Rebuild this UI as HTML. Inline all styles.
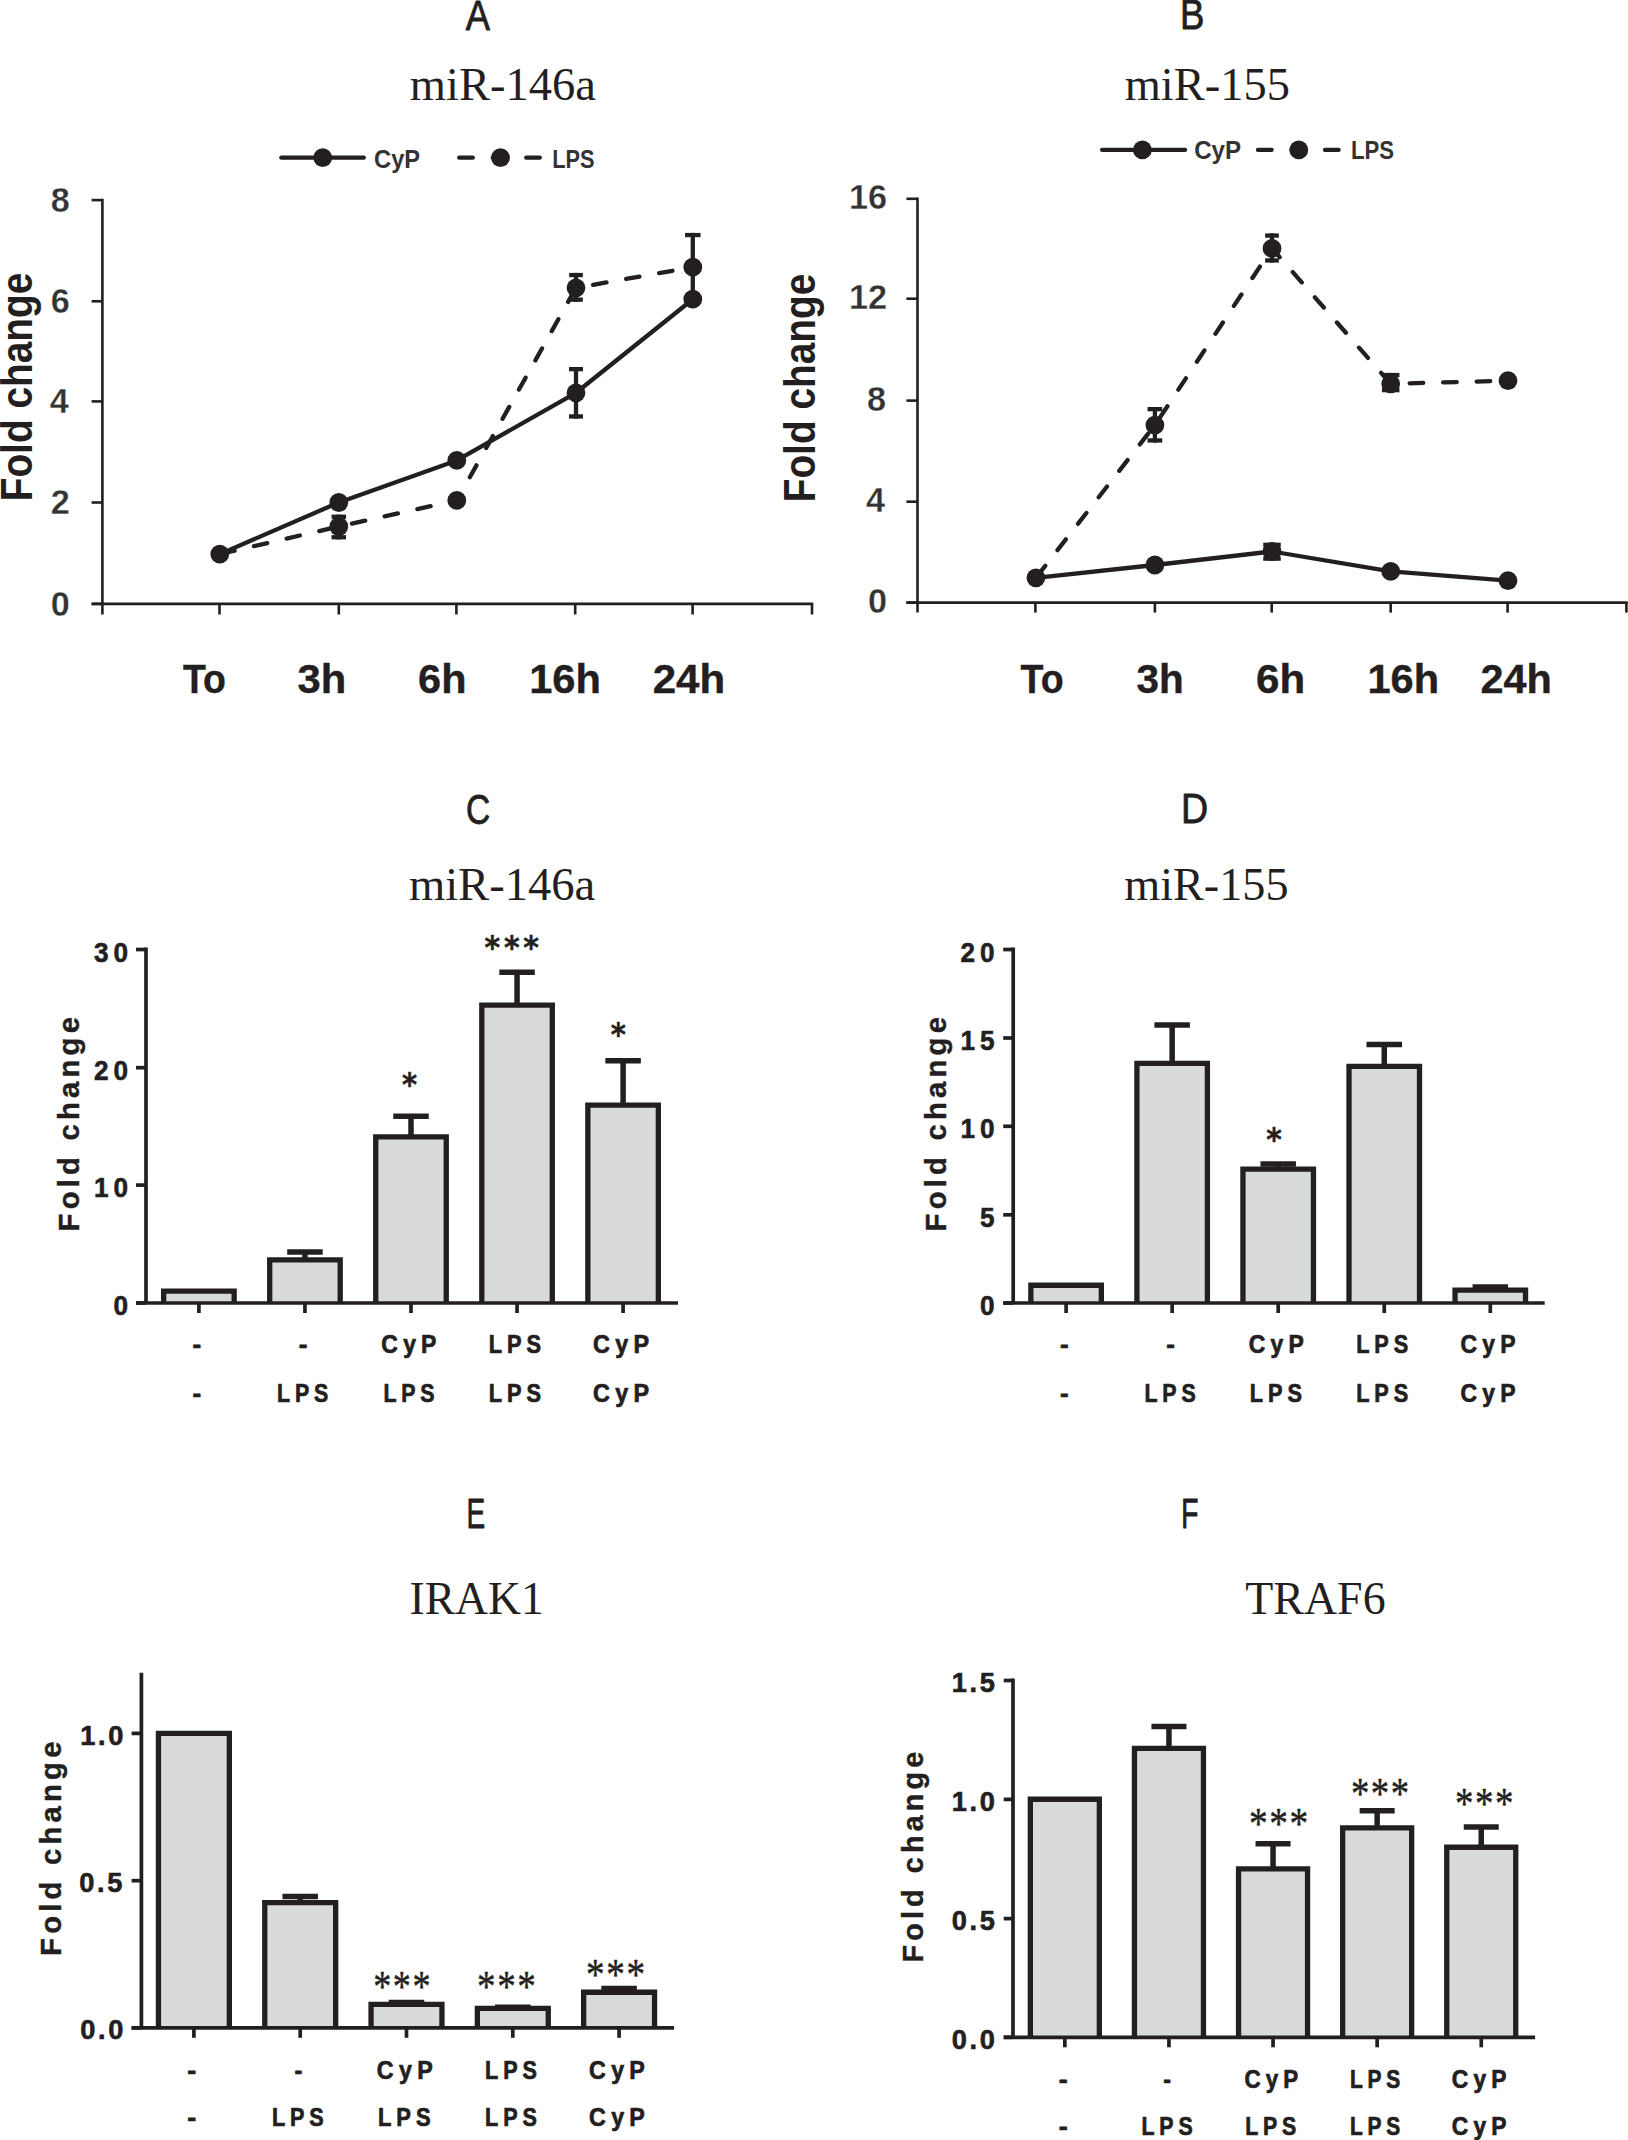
<!DOCTYPE html>
<html lang="en"><head><meta charset="utf-8"><title>Figure: miR-146a / miR-155 fold change</title>
<style>html,body{margin:0;padding:0;background:#fff}svg{display:block}text{white-space:pre}</style></head>
<body><svg width="1628" height="2140" viewBox="0 0 1628 2140">
<rect width="1628" height="2140" fill="#ffffff"/>
<g stroke="#231f20" fill="none" stroke-linecap="butt">
<line x1="102.40" y1="198.80" x2="102.40" y2="614.50" stroke-width="2.60"/>
<line x1="91.60" y1="200.10" x2="102.40" y2="200.10" stroke-width="2.60"/>
<line x1="91.60" y1="301.30" x2="102.40" y2="301.30" stroke-width="2.60"/>
<line x1="91.60" y1="401.40" x2="102.40" y2="401.40" stroke-width="2.60"/>
<line x1="91.60" y1="502.50" x2="102.40" y2="502.50" stroke-width="2.60"/>
<line x1="91.60" y1="603.90" x2="102.40" y2="603.90" stroke-width="2.60"/>
<line x1="91.60" y1="603.90" x2="813.30" y2="603.90" stroke-width="2.60"/>
<line x1="219.50" y1="603.90" x2="219.50" y2="614.50" stroke-width="2.60"/>
<line x1="338.80" y1="603.90" x2="338.80" y2="614.50" stroke-width="2.60"/>
<line x1="456.40" y1="603.90" x2="456.40" y2="614.50" stroke-width="2.60"/>
<line x1="575.20" y1="603.90" x2="575.20" y2="614.50" stroke-width="2.60"/>
<line x1="692.60" y1="603.90" x2="692.60" y2="614.50" stroke-width="2.60"/>
<line x1="812.00" y1="603.90" x2="812.00" y2="614.50" stroke-width="2.60"/>
<line x1="917.50" y1="197.50" x2="917.50" y2="612.60" stroke-width="2.60"/>
<line x1="906.40" y1="198.80" x2="917.50" y2="198.80" stroke-width="2.60"/>
<line x1="906.40" y1="298.70" x2="917.50" y2="298.70" stroke-width="2.60"/>
<line x1="906.40" y1="400.60" x2="917.50" y2="400.60" stroke-width="2.60"/>
<line x1="906.40" y1="501.70" x2="917.50" y2="501.70" stroke-width="2.60"/>
<line x1="906.40" y1="602.60" x2="917.50" y2="602.60" stroke-width="2.60"/>
<line x1="906.40" y1="602.60" x2="1627.70" y2="602.60" stroke-width="2.60"/>
<line x1="1035.40" y1="602.60" x2="1035.40" y2="612.60" stroke-width="2.60"/>
<line x1="1154.90" y1="602.60" x2="1154.90" y2="612.60" stroke-width="2.60"/>
<line x1="1271.70" y1="602.60" x2="1271.70" y2="612.60" stroke-width="2.60"/>
<line x1="1390.70" y1="602.60" x2="1390.70" y2="612.60" stroke-width="2.60"/>
<line x1="1507.60" y1="602.60" x2="1507.60" y2="612.60" stroke-width="2.60"/>
<line x1="1626.40" y1="602.60" x2="1626.40" y2="612.60" stroke-width="2.60"/>
</g>
<g stroke="#231f20" fill="none">
<line x1="338.80" y1="514.60" x2="338.80" y2="539.40" stroke-width="4.30"/>
<line x1="331.55" y1="516.75" x2="346.05" y2="516.75" stroke-width="4.30"/>
<line x1="331.55" y1="537.25" x2="346.05" y2="537.25" stroke-width="4.30"/>
<line x1="576.00" y1="272.90" x2="576.00" y2="301.80" stroke-width="4.30"/>
<line x1="569.15" y1="275.05" x2="582.85" y2="275.05" stroke-width="4.30"/>
<line x1="569.15" y1="299.65" x2="582.85" y2="299.65" stroke-width="4.30"/>
<line x1="576.00" y1="367.00" x2="576.00" y2="418.60" stroke-width="4.30"/>
<line x1="569.00" y1="369.15" x2="583.00" y2="369.15" stroke-width="4.30"/>
<line x1="569.00" y1="416.45" x2="583.00" y2="416.45" stroke-width="4.30"/>
<line x1="692.80" y1="232.90" x2="692.80" y2="300.00" stroke-width="4.30"/>
<line x1="685.05" y1="235.05" x2="700.55" y2="235.05" stroke-width="4.30"/>
<line x1="685.05" y1="297.85" x2="700.55" y2="297.85" stroke-width="4.30"/>
<line x1="1154.90" y1="407.00" x2="1154.90" y2="442.60" stroke-width="4.30"/>
<line x1="1147.55" y1="409.15" x2="1162.25" y2="409.15" stroke-width="4.30"/>
<line x1="1147.55" y1="440.45" x2="1162.25" y2="440.45" stroke-width="4.30"/>
<line x1="1272.00" y1="233.40" x2="1272.00" y2="262.60" stroke-width="4.30"/>
<line x1="1265.15" y1="235.55" x2="1278.85" y2="235.55" stroke-width="4.30"/>
<line x1="1265.15" y1="260.45" x2="1278.85" y2="260.45" stroke-width="4.30"/>
<line x1="1390.70" y1="372.90" x2="1390.70" y2="392.30" stroke-width="4.30"/>
<line x1="1381.95" y1="375.05" x2="1399.45" y2="375.05" stroke-width="4.30"/>
<line x1="1381.95" y1="390.15" x2="1399.45" y2="390.15" stroke-width="4.30"/>
<line x1="1272.00" y1="542.60" x2="1272.00" y2="560.80" stroke-width="4.30"/>
<line x1="1263.25" y1="544.75" x2="1280.75" y2="544.75" stroke-width="4.30"/>
<line x1="1263.25" y1="558.65" x2="1280.75" y2="558.65" stroke-width="4.30"/>
<polyline points="219.8,554.1 338.8,502.5 456.8,460.4 576.0,392.8 692.8,299.2" stroke-width="4.3" stroke-linejoin="round" stroke-linecap="round"/>
<polyline points="1035.9,577.8 1154.9,565.0 1272.0,551.5 1390.7,571.4 1508.0,580.7" stroke-width="4.3" stroke-linejoin="round" stroke-linecap="round"/>
<polyline points="219.8,554.1 338.8,526.5 456.8,500.4 576.0,287.8 692.8,267.2" stroke-width="4.3" stroke-dasharray="13.6 19.9" stroke-dashoffset="-1.6" stroke-linejoin="round" stroke-linecap="round"/>
<polyline points="1035.9,577.8 1154.9,425.1 1272.0,248.4 1390.7,383.8 1508.0,380.7" stroke-width="4.3" stroke-dasharray="13.6 19.9" stroke-dashoffset="-1.6" stroke-linejoin="round" stroke-linecap="round"/>
<line x1="281.30" y1="157.70" x2="363.80" y2="157.70" stroke-width="4.30" stroke-linecap="round"/>
<line x1="459.20" y1="157.70" x2="542.00" y2="157.70" stroke-width="4.30" stroke-linecap="round" stroke-dasharray="13.6 19.9"/>
<line x1="1102.10" y1="149.90" x2="1185.10" y2="149.90" stroke-width="4.30" stroke-linecap="round"/>
<line x1="1258.00" y1="149.90" x2="1341.00" y2="149.90" stroke-width="4.30" stroke-linecap="round" stroke-dasharray="13.6 19.9"/>
</g>
<g fill="#231f20">
<circle cx="219.8" cy="554.1" r="9.4"/>
<circle cx="338.8" cy="502.5" r="9.4"/>
<circle cx="456.8" cy="460.4" r="9.4"/>
<circle cx="576.0" cy="392.8" r="9.4"/>
<circle cx="692.8" cy="299.2" r="9.4"/>
<circle cx="338.8" cy="526.5" r="9.4"/>
<circle cx="456.8" cy="500.4" r="9.4"/>
<circle cx="576.0" cy="287.8" r="9.4"/>
<circle cx="692.8" cy="267.2" r="9.4"/>
<circle cx="1035.9" cy="577.8" r="9.4"/>
<circle cx="1154.9" cy="565.0" r="9.4"/>
<circle cx="1272.0" cy="551.5" r="9.4"/>
<circle cx="1390.7" cy="571.4" r="9.4"/>
<circle cx="1508.0" cy="580.7" r="9.4"/>
<circle cx="1154.9" cy="425.1" r="9.4"/>
<circle cx="1272.0" cy="248.4" r="9.4"/>
<circle cx="1390.7" cy="383.8" r="9.4"/>
<circle cx="1508.0" cy="380.7" r="9.4"/>
<circle cx="322.7" cy="157.7" r="9.4"/>
<circle cx="500.5" cy="157.7" r="9.4"/>
<circle cx="1142.4" cy="149.9" r="9.4"/>
<circle cx="1298.8" cy="149.9" r="9.4"/>
</g>
<g stroke="#231f20" fill="none">
<path d="M163.65 1303.00V1291.15H234.15V1303.00" fill="#d9dadc" stroke-width="5.3" stroke-linejoin="miter"/>
<path d="M269.70 1303.00V1259.95H340.20V1303.00" fill="#d9dadc" stroke-width="5.3" stroke-linejoin="miter"/>
<path d="M375.75 1303.00V1136.95H446.25V1303.00" fill="#d9dadc" stroke-width="5.3" stroke-linejoin="miter"/>
<path d="M481.80 1303.00V1005.05H552.30V1303.00" fill="#d9dadc" stroke-width="5.3" stroke-linejoin="miter"/>
<path d="M587.85 1303.00V1105.15H658.35V1303.00" fill="#d9dadc" stroke-width="5.3" stroke-linejoin="miter"/>
<line x1="304.95" y1="1252.00" x2="304.95" y2="1259.95" stroke-width="5.50"/>
<line x1="287.20" y1="1252.00" x2="322.70" y2="1252.00" stroke-width="5.50"/>
<line x1="411.00" y1="1116.20" x2="411.00" y2="1136.95" stroke-width="5.50"/>
<line x1="393.25" y1="1116.20" x2="428.75" y2="1116.20" stroke-width="5.50"/>
<line x1="517.05" y1="972.20" x2="517.05" y2="1005.05" stroke-width="5.50"/>
<line x1="499.30" y1="972.20" x2="534.80" y2="972.20" stroke-width="5.50"/>
<line x1="623.10" y1="1060.70" x2="623.10" y2="1105.15" stroke-width="5.50"/>
<line x1="605.35" y1="1060.70" x2="640.85" y2="1060.70" stroke-width="5.50"/>
<line x1="146.00" y1="947.60" x2="146.00" y2="1303.00" stroke-width="3.70"/>
<line x1="136.00" y1="949.50" x2="146.00" y2="949.50" stroke-width="3.70"/>
<line x1="136.00" y1="1067.70" x2="146.00" y2="1067.70" stroke-width="3.70"/>
<line x1="136.00" y1="1185.10" x2="146.00" y2="1185.10" stroke-width="3.70"/>
<line x1="136.00" y1="1303.00" x2="146.00" y2="1303.00" stroke-width="3.70"/>
<line x1="136.00" y1="1303.00" x2="678.00" y2="1303.00" stroke-width="3.70"/>
<line x1="198.90" y1="1303.00" x2="198.90" y2="1313.00" stroke-width="3.70"/>
<line x1="304.95" y1="1303.00" x2="304.95" y2="1313.00" stroke-width="3.70"/>
<line x1="411.00" y1="1303.00" x2="411.00" y2="1313.00" stroke-width="3.70"/>
<line x1="517.05" y1="1303.00" x2="517.05" y2="1313.00" stroke-width="3.70"/>
<line x1="623.10" y1="1303.00" x2="623.10" y2="1313.00" stroke-width="3.70"/>
</g>
<g stroke="#231f20" fill="none">
<path d="M1030.85 1303.00V1285.25H1101.35V1303.00" fill="#d9dadc" stroke-width="5.3" stroke-linejoin="miter"/>
<path d="M1136.90 1303.00V1063.35H1207.40V1303.00" fill="#d9dadc" stroke-width="5.3" stroke-linejoin="miter"/>
<path d="M1242.95 1303.00V1169.15H1313.45V1303.00" fill="#d9dadc" stroke-width="5.3" stroke-linejoin="miter"/>
<path d="M1349.00 1303.00V1066.45H1419.50V1303.00" fill="#d9dadc" stroke-width="5.3" stroke-linejoin="miter"/>
<path d="M1455.05 1303.00V1290.15H1525.55V1303.00" fill="#d9dadc" stroke-width="5.3" stroke-linejoin="miter"/>
<line x1="1172.15" y1="1025.10" x2="1172.15" y2="1063.35" stroke-width="5.50"/>
<line x1="1154.40" y1="1025.10" x2="1189.90" y2="1025.10" stroke-width="5.50"/>
<line x1="1278.20" y1="1164.00" x2="1278.20" y2="1169.15" stroke-width="5.50"/>
<line x1="1260.45" y1="1164.00" x2="1295.95" y2="1164.00" stroke-width="5.50"/>
<line x1="1384.25" y1="1044.50" x2="1384.25" y2="1066.45" stroke-width="5.50"/>
<line x1="1366.50" y1="1044.50" x2="1402.00" y2="1044.50" stroke-width="5.50"/>
<line x1="1490.30" y1="1287.10" x2="1490.30" y2="1290.15" stroke-width="5.50"/>
<line x1="1472.55" y1="1287.10" x2="1508.05" y2="1287.10" stroke-width="5.50"/>
<line x1="1013.20" y1="947.60" x2="1013.20" y2="1303.00" stroke-width="3.70"/>
<line x1="1003.20" y1="949.50" x2="1013.20" y2="949.50" stroke-width="3.70"/>
<line x1="1003.20" y1="1038.00" x2="1013.20" y2="1038.00" stroke-width="3.70"/>
<line x1="1003.20" y1="1126.30" x2="1013.20" y2="1126.30" stroke-width="3.70"/>
<line x1="1003.20" y1="1214.80" x2="1013.20" y2="1214.80" stroke-width="3.70"/>
<line x1="1003.20" y1="1303.00" x2="1013.20" y2="1303.00" stroke-width="3.70"/>
<line x1="1003.20" y1="1303.00" x2="1544.70" y2="1303.00" stroke-width="3.70"/>
<line x1="1066.10" y1="1303.00" x2="1066.10" y2="1313.00" stroke-width="3.70"/>
<line x1="1172.15" y1="1303.00" x2="1172.15" y2="1313.00" stroke-width="3.70"/>
<line x1="1278.20" y1="1303.00" x2="1278.20" y2="1313.00" stroke-width="3.70"/>
<line x1="1384.25" y1="1303.00" x2="1384.25" y2="1313.00" stroke-width="3.70"/>
<line x1="1490.30" y1="1303.00" x2="1490.30" y2="1313.00" stroke-width="3.70"/>
</g>
<g stroke="#231f20" fill="none">
<path d="M158.45 2027.80V1733.45H229.35V2027.80" fill="#d9dadc" stroke-width="5.3" stroke-linejoin="miter"/>
<path d="M264.75 2027.80V1902.65H335.65V2027.80" fill="#d9dadc" stroke-width="5.3" stroke-linejoin="miter"/>
<path d="M371.05 2027.80V2004.35H441.95V2027.80" fill="#d9dadc" stroke-width="5.3" stroke-linejoin="miter"/>
<path d="M477.35 2027.80V2008.45H548.25V2027.80" fill="#d9dadc" stroke-width="5.3" stroke-linejoin="miter"/>
<path d="M583.65 2027.80V1992.25H654.55V2027.80" fill="#d9dadc" stroke-width="5.3" stroke-linejoin="miter"/>
<line x1="300.20" y1="1896.40" x2="300.20" y2="1902.65" stroke-width="5.50"/>
<line x1="282.45" y1="1896.40" x2="317.95" y2="1896.40" stroke-width="5.50"/>
<line x1="406.50" y1="2002.60" x2="406.50" y2="2004.35" stroke-width="5.50"/>
<line x1="388.75" y1="2002.60" x2="424.25" y2="2002.60" stroke-width="5.50"/>
<line x1="512.80" y1="2007.20" x2="512.80" y2="2008.45" stroke-width="5.50"/>
<line x1="495.05" y1="2007.20" x2="530.55" y2="2007.20" stroke-width="5.50"/>
<line x1="619.10" y1="1988.40" x2="619.10" y2="1992.25" stroke-width="5.50"/>
<line x1="601.35" y1="1988.40" x2="636.85" y2="1988.40" stroke-width="5.50"/>
<line x1="141.40" y1="1672.80" x2="141.40" y2="2027.80" stroke-width="3.70"/>
<line x1="131.60" y1="1733.40" x2="141.40" y2="1733.40" stroke-width="3.70"/>
<line x1="131.60" y1="1880.70" x2="141.40" y2="1880.70" stroke-width="3.70"/>
<line x1="131.60" y1="2027.80" x2="141.40" y2="2027.80" stroke-width="3.70"/>
<line x1="131.60" y1="2027.80" x2="674.10" y2="2027.80" stroke-width="3.70"/>
<line x1="193.90" y1="2027.80" x2="193.90" y2="2037.80" stroke-width="3.70"/>
<line x1="300.20" y1="2027.80" x2="300.20" y2="2037.80" stroke-width="3.70"/>
<line x1="406.50" y1="2027.80" x2="406.50" y2="2037.80" stroke-width="3.70"/>
<line x1="512.80" y1="2027.80" x2="512.80" y2="2037.80" stroke-width="3.70"/>
<line x1="619.10" y1="2027.80" x2="619.10" y2="2037.80" stroke-width="3.70"/>
</g>
<g stroke="#231f20" fill="none">
<path d="M1030.35 2037.30V1799.25H1099.35V2037.30" fill="#d9dadc" stroke-width="5.3" stroke-linejoin="miter"/>
<path d="M1134.45 2037.30V1748.45H1203.45V2037.30" fill="#d9dadc" stroke-width="5.3" stroke-linejoin="miter"/>
<path d="M1238.55 2037.30V1868.95H1307.55V2037.30" fill="#d9dadc" stroke-width="5.3" stroke-linejoin="miter"/>
<path d="M1342.65 2037.30V1827.85H1411.65V2037.30" fill="#d9dadc" stroke-width="5.3" stroke-linejoin="miter"/>
<path d="M1446.75 2037.30V1847.25H1515.75V2037.30" fill="#d9dadc" stroke-width="5.3" stroke-linejoin="miter"/>
<line x1="1168.95" y1="1726.40" x2="1168.95" y2="1748.45" stroke-width="5.50"/>
<line x1="1151.45" y1="1726.40" x2="1186.45" y2="1726.40" stroke-width="5.50"/>
<line x1="1273.05" y1="1843.80" x2="1273.05" y2="1868.95" stroke-width="5.50"/>
<line x1="1255.55" y1="1843.80" x2="1290.55" y2="1843.80" stroke-width="5.50"/>
<line x1="1377.15" y1="1810.80" x2="1377.15" y2="1827.85" stroke-width="5.50"/>
<line x1="1359.65" y1="1810.80" x2="1394.65" y2="1810.80" stroke-width="5.50"/>
<line x1="1481.25" y1="1827.00" x2="1481.25" y2="1847.25" stroke-width="5.50"/>
<line x1="1463.75" y1="1827.00" x2="1498.75" y2="1827.00" stroke-width="5.50"/>
<line x1="1013.00" y1="1678.60" x2="1013.00" y2="2037.30" stroke-width="3.70"/>
<line x1="1003.70" y1="1680.50" x2="1013.00" y2="1680.50" stroke-width="3.70"/>
<line x1="1003.70" y1="1799.40" x2="1013.00" y2="1799.40" stroke-width="3.70"/>
<line x1="1003.70" y1="1918.60" x2="1013.00" y2="1918.60" stroke-width="3.70"/>
<line x1="1003.70" y1="2037.30" x2="1013.00" y2="2037.30" stroke-width="3.70"/>
<line x1="1003.70" y1="2037.30" x2="1535.10" y2="2037.30" stroke-width="3.70"/>
<line x1="1064.85" y1="2037.30" x2="1064.85" y2="2047.30" stroke-width="3.70"/>
<line x1="1168.95" y1="2037.30" x2="1168.95" y2="2047.30" stroke-width="3.70"/>
<line x1="1273.05" y1="2037.30" x2="1273.05" y2="2047.30" stroke-width="3.70"/>
<line x1="1377.15" y1="2037.30" x2="1377.15" y2="2047.30" stroke-width="3.70"/>
<line x1="1481.25" y1="2037.30" x2="1481.25" y2="2047.30" stroke-width="3.70"/>
</g>
<g>
<text id="LA" transform="translate(465.70 29.90) scale(0.8562 1)" font-family="'Liberation Sans', Arial, sans-serif" font-weight="400" font-size="42.50" fill="#231f20" text-anchor="start" stroke="#231f20" stroke-width="0.8" stroke-linejoin="round">A</text>
<text id="LB" transform="translate(1179.90 29.40) scale(0.8618 1)" font-family="'Liberation Sans', Arial, sans-serif" font-weight="400" font-size="42.50" fill="#231f20" text-anchor="start" stroke="#231f20" stroke-width="0.8" stroke-linejoin="round">B</text>
<text id="LC" transform="translate(466.10 823.60) scale(0.7873 1)" font-family="'Liberation Sans', Arial, sans-serif" font-weight="400" font-size="42.50" fill="#231f20" text-anchor="start" stroke="#231f20" stroke-width="0.8" stroke-linejoin="round">C</text>
<text id="LD" transform="translate(1180.90 823.30) scale(0.8858 1)" font-family="'Liberation Sans', Arial, sans-serif" font-weight="400" font-size="42.50" fill="#231f20" text-anchor="start" stroke="#231f20" stroke-width="0.8" stroke-linejoin="round">D</text>
<text id="LE" transform="translate(466.40 1528.40) scale(0.6602 1)" font-family="'Liberation Sans', Arial, sans-serif" font-weight="400" font-size="42.50" fill="#231f20" text-anchor="start" stroke="#231f20" stroke-width="0.8" stroke-linejoin="round">E</text>
<text id="LF" transform="translate(1180.90 1528.40) scale(0.6744 1)" font-family="'Liberation Sans', Arial, sans-serif" font-weight="400" font-size="42.50" fill="#231f20" text-anchor="start" stroke="#231f20" stroke-width="0.8" stroke-linejoin="round">F</text>
<text id="TA" transform="translate(409.80 100.10) scale(1.0110 1)" font-family="'Liberation Serif', 'Times New Roman', serif" font-weight="400" font-size="46.00" fill="#231f20" text-anchor="start">miR-146a</text>
<text id="TB" transform="translate(1124.70 100.10) scale(1.0100 1)" font-family="'Liberation Serif', 'Times New Roman', serif" font-weight="400" font-size="46.00" fill="#231f20" text-anchor="start">miR-155</text>
<text id="TC" transform="translate(408.90 899.80) scale(1.0133 1)" font-family="'Liberation Serif', 'Times New Roman', serif" font-weight="400" font-size="46.00" fill="#231f20" text-anchor="start">miR-146a</text>
<text id="TD" transform="translate(1124.20 899.80) scale(1.0050 1)" font-family="'Liberation Serif', 'Times New Roman', serif" font-weight="400" font-size="46.00" fill="#231f20" text-anchor="start">miR-155</text>
<text id="TE" transform="translate(409.50 1613.70) scale(0.9909 1)" font-family="'Liberation Serif', 'Times New Roman', serif" font-weight="400" font-size="46.00" fill="#231f20" text-anchor="start">IRAK1</text>
<text id="TF" transform="translate(1245.20 1613.70) scale(0.9987 1)" font-family="'Liberation Serif', 'Times New Roman', serif" font-weight="400" font-size="46.00" fill="#231f20" text-anchor="start">TRAF6</text>
<text id="GA1" transform="translate(374.10 167.70) scale(0.9462 1)" font-family="'Liberation Sans', Arial, sans-serif" font-weight="700" font-size="25.00" fill="#333333" text-anchor="start">CyP</text>
<text id="GA2" transform="translate(552.20 167.70) scale(0.8700 1)" font-family="'Liberation Sans', Arial, sans-serif" font-weight="700" font-size="25.00" fill="#333333" text-anchor="start">LPS</text>
<text id="GB1" transform="translate(1194.20 158.70) scale(0.9655 1)" font-family="'Liberation Sans', Arial, sans-serif" font-weight="700" font-size="25.00" fill="#333333" text-anchor="start">CyP</text>
<text id="GB2" transform="translate(1350.90 158.70) scale(0.8872 1)" font-family="'Liberation Sans', Arial, sans-serif" font-weight="700" font-size="25.00" fill="#333333" text-anchor="start">LPS</text>
<text id="YA0" transform="translate(69.90 211.70) scale(0.9787 1)" font-family="'Liberation Sans', Arial, sans-serif" font-weight="700" font-size="35.00" fill="#333333" text-anchor="end" stroke="#ffffff" stroke-width="0.3">8</text>
<text id="YA1" transform="translate(69.90 312.90) scale(0.9787 1)" font-family="'Liberation Sans', Arial, sans-serif" font-weight="700" font-size="35.00" fill="#333333" text-anchor="end" stroke="#ffffff" stroke-width="0.3">6</text>
<text id="YA2" transform="translate(68.90 413.00) scale(0.9787 1)" font-family="'Liberation Sans', Arial, sans-serif" font-weight="700" font-size="35.00" fill="#333333" text-anchor="end" stroke="#ffffff" stroke-width="0.3">4</text>
<text id="YA3" transform="translate(69.90 514.10) scale(0.9787 1)" font-family="'Liberation Sans', Arial, sans-serif" font-weight="700" font-size="35.00" fill="#333333" text-anchor="end" stroke="#ffffff" stroke-width="0.3">2</text>
<text id="YA4" transform="translate(69.90 615.50) scale(0.9787 1)" font-family="'Liberation Sans', Arial, sans-serif" font-weight="700" font-size="35.00" fill="#333333" text-anchor="end" stroke="#ffffff" stroke-width="0.3">0</text>
<text id="YB0" transform="translate(887.00 209.00) scale(0.9787 1)" font-family="'Liberation Sans', Arial, sans-serif" font-weight="700" font-size="35.00" fill="#333333" text-anchor="end" stroke="#ffffff" stroke-width="0.3">16</text>
<text id="YB1" transform="translate(887.00 308.90) scale(0.9787 1)" font-family="'Liberation Sans', Arial, sans-serif" font-weight="700" font-size="35.00" fill="#333333" text-anchor="end" stroke="#ffffff" stroke-width="0.3">12</text>
<text id="YB2" transform="translate(886.00 410.80) scale(0.9787 1)" font-family="'Liberation Sans', Arial, sans-serif" font-weight="700" font-size="35.00" fill="#333333" text-anchor="end" stroke="#ffffff" stroke-width="0.3">8</text>
<text id="YB3" transform="translate(885.00 511.90) scale(0.9787 1)" font-family="'Liberation Sans', Arial, sans-serif" font-weight="700" font-size="35.00" fill="#333333" text-anchor="end" stroke="#ffffff" stroke-width="0.3">4</text>
<text id="YB4" transform="translate(887.00 612.80) scale(0.9787 1)" font-family="'Liberation Sans', Arial, sans-serif" font-weight="700" font-size="35.00" fill="#333333" text-anchor="end" stroke="#ffffff" stroke-width="0.3">0</text>
<text id="FA" transform="translate(32.20 501.30) rotate(-90) scale(0.8923 1)" font-family="'Liberation Sans', Arial, sans-serif" font-weight="700" font-size="43.50" fill="#231f20" text-anchor="start">Fold change</text>
<text id="FB" transform="translate(814.80 502.30) rotate(-90) scale(0.8926 1)" font-family="'Liberation Sans', Arial, sans-serif" font-weight="700" font-size="43.50" fill="#231f20" text-anchor="start">Fold change</text>
<text id="XA0" transform="translate(182.90 693.40) scale(0.9094 1)" font-family="'Liberation Sans', Arial, sans-serif" font-weight="700" font-size="41.20" fill="#231f20" text-anchor="start" stroke="#231f20" stroke-width="0.4">To</text>
<text id="XA1" transform="translate(297.60 693.40) scale(1.0136 1)" font-family="'Liberation Sans', Arial, sans-serif" font-weight="700" font-size="41.20" fill="#231f20" text-anchor="start" stroke="#231f20" stroke-width="0.4">3h</text>
<text id="XA2" transform="translate(418.10 693.40) scale(1.0051 1)" font-family="'Liberation Sans', Arial, sans-serif" font-weight="700" font-size="41.20" fill="#231f20" text-anchor="start" stroke="#231f20" stroke-width="0.4">6h</text>
<text id="XA3" transform="translate(529.20 693.40) scale(1.0092 1)" font-family="'Liberation Sans', Arial, sans-serif" font-weight="700" font-size="41.20" fill="#231f20" text-anchor="start" stroke="#231f20" stroke-width="0.4">16h</text>
<text id="XA4" transform="translate(652.70 693.40) scale(1.0210 1)" font-family="'Liberation Sans', Arial, sans-serif" font-weight="700" font-size="41.20" fill="#231f20" text-anchor="start" stroke="#231f20" stroke-width="0.4">24h</text>
<text id="XB0" transform="translate(1020.50 693.40) scale(0.9116 1)" font-family="'Liberation Sans', Arial, sans-serif" font-weight="700" font-size="41.20" fill="#231f20" text-anchor="start" stroke="#231f20" stroke-width="0.4">To</text>
<text id="XB1" transform="translate(1136.60 693.40) scale(0.9828 1)" font-family="'Liberation Sans', Arial, sans-serif" font-weight="700" font-size="41.20" fill="#231f20" text-anchor="start" stroke="#231f20" stroke-width="0.4">3h</text>
<text id="XB2" transform="translate(1256.00 693.40) scale(1.0222 1)" font-family="'Liberation Sans', Arial, sans-serif" font-weight="700" font-size="41.20" fill="#231f20" text-anchor="start" stroke="#231f20" stroke-width="0.4">6h</text>
<text id="XB3" transform="translate(1367.40 693.40) scale(1.0092 1)" font-family="'Liberation Sans', Arial, sans-serif" font-weight="700" font-size="41.20" fill="#231f20" text-anchor="start" stroke="#231f20" stroke-width="0.4">16h</text>
<text id="XB4" transform="translate(1480.50 693.40) scale(1.0062 1)" font-family="'Liberation Sans', Arial, sans-serif" font-weight="700" font-size="41.20" fill="#231f20" text-anchor="start" stroke="#231f20" stroke-width="0.4">24h</text>
<text id="YC0" transform="translate(133.00 961.60) scale(0.9618 1)" font-family="'Liberation Sans', Arial, sans-serif" font-weight="700" font-size="27.20" fill="#231f20" text-anchor="end" letter-spacing="5.10" stroke="#231f20" stroke-width="0.6" stroke-linejoin="round">30</text>
<text id="YC1" transform="translate(133.00 1079.80) scale(0.9618 1)" font-family="'Liberation Sans', Arial, sans-serif" font-weight="700" font-size="27.20" fill="#231f20" text-anchor="end" letter-spacing="5.10" stroke="#231f20" stroke-width="0.6" stroke-linejoin="round">20</text>
<text id="YC2" transform="translate(133.00 1197.20) scale(0.9618 1)" font-family="'Liberation Sans', Arial, sans-serif" font-weight="700" font-size="27.20" fill="#231f20" text-anchor="end" letter-spacing="5.10" stroke="#231f20" stroke-width="0.6" stroke-linejoin="round">10</text>
<text id="YC3" transform="translate(133.00 1315.10) scale(0.9618 1)" font-family="'Liberation Sans', Arial, sans-serif" font-weight="700" font-size="27.20" fill="#231f20" text-anchor="end" letter-spacing="5.10" stroke="#231f20" stroke-width="0.6" stroke-linejoin="round">0</text>
<text id="FC" transform="translate(78.70 1231.40) rotate(-90) scale(0.9762 1)" font-family="'Liberation Sans', Arial, sans-serif" font-weight="700" font-size="30.00" fill="#231f20" text-anchor="start" letter-spacing="4.30" stroke="#231f20" stroke-width="0.4" stroke-linejoin="round">Fold change</text>
<text id="RC00" transform="translate(192.50 1353.30) scale(1.0361 1)" font-family="'Liberation Sans', Arial, sans-serif" font-weight="700" font-size="25.20" fill="#231f20" text-anchor="start" letter-spacing="5.70" stroke="#231f20" stroke-width="0.7" stroke-linejoin="round">-</text>
<text id="RC01" transform="translate(298.85 1353.30) scale(1.0361 1)" font-family="'Liberation Sans', Arial, sans-serif" font-weight="700" font-size="25.20" fill="#231f20" text-anchor="start" letter-spacing="5.70" stroke="#231f20" stroke-width="0.7" stroke-linejoin="round">-</text>
<text id="RC02" transform="translate(381.35 1353.30) scale(0.9121 1)" font-family="'Liberation Sans', Arial, sans-serif" font-weight="700" font-size="25.20" fill="#231f20" text-anchor="start" letter-spacing="5.70" stroke="#231f20" stroke-width="0.7" stroke-linejoin="round">CyP</text>
<text id="RC03" transform="translate(488.75 1353.30) scale(0.8651 1)" font-family="'Liberation Sans', Arial, sans-serif" font-weight="700" font-size="25.20" fill="#231f20" text-anchor="start" letter-spacing="5.70" stroke="#231f20" stroke-width="0.7" stroke-linejoin="round">LPS</text>
<text id="RC04" transform="translate(593.05 1353.30) scale(0.9293 1)" font-family="'Liberation Sans', Arial, sans-serif" font-weight="700" font-size="25.20" fill="#231f20" text-anchor="start" letter-spacing="5.70" stroke="#231f20" stroke-width="0.7" stroke-linejoin="round">CyP</text>
<text id="RC10" transform="translate(192.50 1401.80) scale(1.0361 1)" font-family="'Liberation Sans', Arial, sans-serif" font-weight="700" font-size="25.20" fill="#231f20" text-anchor="start" letter-spacing="5.70" stroke="#231f20" stroke-width="0.7" stroke-linejoin="round">-</text>
<text id="RC11" transform="translate(277.05 1401.80) scale(0.8478 1)" font-family="'Liberation Sans', Arial, sans-serif" font-weight="700" font-size="25.20" fill="#231f20" text-anchor="start" letter-spacing="5.70" stroke="#231f20" stroke-width="0.7" stroke-linejoin="round">LPS</text>
<text id="RC12" transform="translate(383.40 1401.80) scale(0.8478 1)" font-family="'Liberation Sans', Arial, sans-serif" font-weight="700" font-size="25.20" fill="#231f20" text-anchor="start" letter-spacing="5.70" stroke="#231f20" stroke-width="0.7" stroke-linejoin="round">LPS</text>
<text id="RC13" transform="translate(488.75 1401.80) scale(0.8651 1)" font-family="'Liberation Sans', Arial, sans-serif" font-weight="700" font-size="25.20" fill="#231f20" text-anchor="start" letter-spacing="5.70" stroke="#231f20" stroke-width="0.7" stroke-linejoin="round">LPS</text>
<text id="RC14" transform="translate(593.05 1401.80) scale(0.9293 1)" font-family="'Liberation Sans', Arial, sans-serif" font-weight="700" font-size="25.20" fill="#231f20" text-anchor="start" letter-spacing="5.70" stroke="#231f20" stroke-width="0.7" stroke-linejoin="round">CyP</text>
<text id="SC0" transform="translate(402.00 1095.00) scale(0.8853 1)" font-family="'DejaVu Sans', 'Liberation Sans', sans-serif" font-weight="700" font-size="32.63" fill="#231f20" text-anchor="start" letter-spacing="4.00" stroke="#231f20" stroke-width="0.45">*</text>
<text id="SC1" transform="translate(484.60 957.70) scale(0.9307 1)" font-family="'DejaVu Sans', 'Liberation Sans', sans-serif" font-weight="700" font-size="32.14" fill="#231f20" text-anchor="start" letter-spacing="4.00" stroke="#231f20" stroke-width="0.45">***</text>
<text id="SC2" transform="translate(610.70 1045.00) scale(0.8853 1)" font-family="'DejaVu Sans', 'Liberation Sans', sans-serif" font-weight="700" font-size="32.63" fill="#231f20" text-anchor="start" letter-spacing="4.00" stroke="#231f20" stroke-width="0.45">*</text>
<text id="YD0" transform="translate(999.40 961.60) scale(0.9618 1)" font-family="'Liberation Sans', Arial, sans-serif" font-weight="700" font-size="27.20" fill="#231f20" text-anchor="end" letter-spacing="5.10" stroke="#231f20" stroke-width="0.6" stroke-linejoin="round">20</text>
<text id="YD1" transform="translate(999.40 1050.10) scale(0.9618 1)" font-family="'Liberation Sans', Arial, sans-serif" font-weight="700" font-size="27.20" fill="#231f20" text-anchor="end" letter-spacing="5.10" stroke="#231f20" stroke-width="0.6" stroke-linejoin="round">15</text>
<text id="YD2" transform="translate(999.40 1138.40) scale(0.9618 1)" font-family="'Liberation Sans', Arial, sans-serif" font-weight="700" font-size="27.20" fill="#231f20" text-anchor="end" letter-spacing="5.10" stroke="#231f20" stroke-width="0.6" stroke-linejoin="round">10</text>
<text id="YD3" transform="translate(999.40 1226.90) scale(0.9618 1)" font-family="'Liberation Sans', Arial, sans-serif" font-weight="700" font-size="27.20" fill="#231f20" text-anchor="end" letter-spacing="5.10" stroke="#231f20" stroke-width="0.6" stroke-linejoin="round">5</text>
<text id="YD4" transform="translate(999.40 1315.10) scale(0.9618 1)" font-family="'Liberation Sans', Arial, sans-serif" font-weight="700" font-size="27.20" fill="#231f20" text-anchor="end" letter-spacing="5.10" stroke="#231f20" stroke-width="0.6" stroke-linejoin="round">0</text>
<text id="FD" transform="translate(945.90 1231.40) rotate(-90) scale(0.9762 1)" font-family="'Liberation Sans', Arial, sans-serif" font-weight="700" font-size="30.00" fill="#231f20" text-anchor="start" letter-spacing="4.30" stroke="#231f20" stroke-width="0.4" stroke-linejoin="round">Fold change</text>
<text id="RD00" transform="translate(1059.90 1353.30) scale(1.0361 1)" font-family="'Liberation Sans', Arial, sans-serif" font-weight="700" font-size="25.20" fill="#231f20" text-anchor="start" letter-spacing="5.70" stroke="#231f20" stroke-width="0.7" stroke-linejoin="round">-</text>
<text id="RD01" transform="translate(1166.25 1353.30) scale(1.0361 1)" font-family="'Liberation Sans', Arial, sans-serif" font-weight="700" font-size="25.20" fill="#231f20" text-anchor="start" letter-spacing="5.70" stroke="#231f20" stroke-width="0.7" stroke-linejoin="round">-</text>
<text id="RD02" transform="translate(1248.75 1353.30) scale(0.9121 1)" font-family="'Liberation Sans', Arial, sans-serif" font-weight="700" font-size="25.20" fill="#231f20" text-anchor="start" letter-spacing="5.70" stroke="#231f20" stroke-width="0.7" stroke-linejoin="round">CyP</text>
<text id="RD03" transform="translate(1356.15 1353.30) scale(0.8628 1)" font-family="'Liberation Sans', Arial, sans-serif" font-weight="700" font-size="25.20" fill="#231f20" text-anchor="start" letter-spacing="5.70" stroke="#231f20" stroke-width="0.7" stroke-linejoin="round">LPS</text>
<text id="RD04" transform="translate(1460.45 1353.30) scale(0.9121 1)" font-family="'Liberation Sans', Arial, sans-serif" font-weight="700" font-size="25.20" fill="#231f20" text-anchor="start" letter-spacing="5.70" stroke="#231f20" stroke-width="0.7" stroke-linejoin="round">CyP</text>
<text id="RD10" transform="translate(1059.90 1401.80) scale(1.0361 1)" font-family="'Liberation Sans', Arial, sans-serif" font-weight="700" font-size="25.20" fill="#231f20" text-anchor="start" letter-spacing="5.70" stroke="#231f20" stroke-width="0.7" stroke-linejoin="round">-</text>
<text id="RD11" transform="translate(1144.45 1401.80) scale(0.8478 1)" font-family="'Liberation Sans', Arial, sans-serif" font-weight="700" font-size="25.20" fill="#231f20" text-anchor="start" letter-spacing="5.70" stroke="#231f20" stroke-width="0.7" stroke-linejoin="round">LPS</text>
<text id="RD12" transform="translate(1249.80 1401.80) scale(0.8628 1)" font-family="'Liberation Sans', Arial, sans-serif" font-weight="700" font-size="25.20" fill="#231f20" text-anchor="start" letter-spacing="5.70" stroke="#231f20" stroke-width="0.7" stroke-linejoin="round">LPS</text>
<text id="RD13" transform="translate(1356.15 1401.80) scale(0.8628 1)" font-family="'Liberation Sans', Arial, sans-serif" font-weight="700" font-size="25.20" fill="#231f20" text-anchor="start" letter-spacing="5.70" stroke="#231f20" stroke-width="0.7" stroke-linejoin="round">LPS</text>
<text id="RD14" transform="translate(1460.45 1401.80) scale(0.9121 1)" font-family="'Liberation Sans', Arial, sans-serif" font-weight="700" font-size="25.20" fill="#231f20" text-anchor="start" letter-spacing="5.70" stroke="#231f20" stroke-width="0.7" stroke-linejoin="round">CyP</text>
<text id="SD0" transform="translate(1266.30 1150.10) scale(0.9233 1)" font-family="'DejaVu Sans', 'Liberation Sans', sans-serif" font-weight="700" font-size="32.14" fill="#231f20" text-anchor="start" letter-spacing="4.00" stroke="#231f20" stroke-width="0.45">*</text>
<text id="YE0" transform="translate(126.10 1745.00) scale(1.0154 1)" font-family="'Liberation Sans', Arial, sans-serif" font-weight="700" font-size="26.80" fill="#231f20" text-anchor="end" letter-spacing="2.60" stroke="#231f20" stroke-width="0.6" stroke-linejoin="round">1.0</text>
<text id="YE1" transform="translate(125.10 1892.30) scale(1.0154 1)" font-family="'Liberation Sans', Arial, sans-serif" font-weight="700" font-size="26.80" fill="#231f20" text-anchor="end" letter-spacing="2.60" stroke="#231f20" stroke-width="0.6" stroke-linejoin="round">0.5</text>
<text id="YE2" transform="translate(126.10 2039.40) scale(1.0154 1)" font-family="'Liberation Sans', Arial, sans-serif" font-weight="700" font-size="26.80" fill="#231f20" text-anchor="end" letter-spacing="2.60" stroke="#231f20" stroke-width="0.6" stroke-linejoin="round">0.0</text>
<text id="FE" transform="translate(60.60 1955.90) rotate(-90) scale(0.9761 1)" font-family="'Liberation Sans', Arial, sans-serif" font-weight="700" font-size="30.00" fill="#231f20" text-anchor="start" letter-spacing="4.30" stroke="#231f20" stroke-width="0.4" stroke-linejoin="round">Fold change</text>
<text id="RE00" transform="translate(187.37 2078.60) scale(1.0694 1)" font-family="'Liberation Sans', Arial, sans-serif" font-weight="700" font-size="25.20" fill="#231f20" text-anchor="start" letter-spacing="5.70" stroke="#231f20" stroke-width="0.7" stroke-linejoin="round">-</text>
<text id="RE01" transform="translate(294.47 2078.60) scale(0.9357 1)" font-family="'Liberation Sans', Arial, sans-serif" font-weight="700" font-size="25.20" fill="#231f20" text-anchor="start" letter-spacing="5.70" stroke="#231f20" stroke-width="0.7" stroke-linejoin="round">-</text>
<text id="RE02" transform="translate(376.85 2078.60) scale(0.9242 1)" font-family="'Liberation Sans', Arial, sans-serif" font-weight="700" font-size="25.20" fill="#231f20" text-anchor="start" letter-spacing="5.70" stroke="#231f20" stroke-width="0.7" stroke-linejoin="round">CyP</text>
<text id="RE03" transform="translate(485.08 2078.60) scale(0.8575 1)" font-family="'Liberation Sans', Arial, sans-serif" font-weight="700" font-size="25.20" fill="#231f20" text-anchor="start" letter-spacing="5.70" stroke="#231f20" stroke-width="0.7" stroke-linejoin="round">LPS</text>
<text id="RE04" transform="translate(589.05 2078.60) scale(0.9242 1)" font-family="'Liberation Sans', Arial, sans-serif" font-weight="700" font-size="25.20" fill="#231f20" text-anchor="start" letter-spacing="5.70" stroke="#231f20" stroke-width="0.7" stroke-linejoin="round">CyP</text>
<text id="RE10" transform="translate(187.37 2126.30) scale(1.0694 1)" font-family="'Liberation Sans', Arial, sans-serif" font-weight="700" font-size="25.20" fill="#231f20" text-anchor="start" letter-spacing="5.70" stroke="#231f20" stroke-width="0.7" stroke-linejoin="round">-</text>
<text id="RE11" transform="translate(271.88 2126.30) scale(0.8575 1)" font-family="'Liberation Sans', Arial, sans-serif" font-weight="700" font-size="25.20" fill="#231f20" text-anchor="start" letter-spacing="5.70" stroke="#231f20" stroke-width="0.7" stroke-linejoin="round">LPS</text>
<text id="RE12" transform="translate(377.98 2126.30) scale(0.8726 1)" font-family="'Liberation Sans', Arial, sans-serif" font-weight="700" font-size="25.20" fill="#231f20" text-anchor="start" letter-spacing="5.70" stroke="#231f20" stroke-width="0.7" stroke-linejoin="round">LPS</text>
<text id="RE13" transform="translate(485.08 2126.30) scale(0.8575 1)" font-family="'Liberation Sans', Arial, sans-serif" font-weight="700" font-size="25.20" fill="#231f20" text-anchor="start" letter-spacing="5.70" stroke="#231f20" stroke-width="0.7" stroke-linejoin="round">LPS</text>
<text id="RE14" transform="translate(589.05 2126.30) scale(0.9242 1)" font-family="'Liberation Sans', Arial, sans-serif" font-weight="700" font-size="25.20" fill="#231f20" text-anchor="start" letter-spacing="5.70" stroke="#231f20" stroke-width="0.7" stroke-linejoin="round">CyP</text>
<text id="SE0" transform="translate(373.20 2001.20) scale(0.7986 1)" font-family="'Liberation Serif', 'Times New Roman', serif" font-weight="400" font-size="45.21" fill="#231f20" text-anchor="start" letter-spacing="2.00" stroke="#231f20" stroke-width="0.45" stroke-linejoin="round">***</text>
<text id="SE1" transform="translate(477.00 2001.20) scale(0.8199 1)" font-family="'Liberation Serif', 'Times New Roman', serif" font-weight="400" font-size="45.21" fill="#231f20" text-anchor="start" letter-spacing="2.00" stroke="#231f20" stroke-width="0.45" stroke-linejoin="round">***</text>
<text id="SE2" transform="translate(586.00 1988.70) scale(0.8230 1)" font-family="'Liberation Serif', 'Times New Roman', serif" font-weight="400" font-size="45.21" fill="#231f20" text-anchor="start" letter-spacing="2.00" stroke="#231f20" stroke-width="0.45" stroke-linejoin="round">***</text>
<text id="YF0" transform="translate(997.50 1692.10) scale(1.0154 1)" font-family="'Liberation Sans', Arial, sans-serif" font-weight="700" font-size="26.80" fill="#231f20" text-anchor="end" letter-spacing="2.60" stroke="#231f20" stroke-width="0.6" stroke-linejoin="round">1.5</text>
<text id="YF1" transform="translate(997.50 1811.00) scale(1.0154 1)" font-family="'Liberation Sans', Arial, sans-serif" font-weight="700" font-size="26.80" fill="#231f20" text-anchor="end" letter-spacing="2.60" stroke="#231f20" stroke-width="0.6" stroke-linejoin="round">1.0</text>
<text id="YF2" transform="translate(997.50 1930.20) scale(1.0154 1)" font-family="'Liberation Sans', Arial, sans-serif" font-weight="700" font-size="26.80" fill="#231f20" text-anchor="end" letter-spacing="2.60" stroke="#231f20" stroke-width="0.6" stroke-linejoin="round">0.5</text>
<text id="YF3" transform="translate(997.50 2048.90) scale(1.0154 1)" font-family="'Liberation Sans', Arial, sans-serif" font-weight="700" font-size="26.80" fill="#231f20" text-anchor="end" letter-spacing="2.60" stroke="#231f20" stroke-width="0.6" stroke-linejoin="round">0.0</text>
<text id="FF" transform="translate(923.20 1962.40) rotate(-90) scale(0.9587 1)" font-family="'Liberation Sans', Arial, sans-serif" font-weight="700" font-size="30.00" fill="#231f20" text-anchor="start" letter-spacing="4.30" stroke="#231f20" stroke-width="0.4" stroke-linejoin="round">Fold change</text>
<text id="RF00" transform="translate(1058.65 2087.60) scale(1.0722 1)" font-family="'Liberation Sans', Arial, sans-serif" font-weight="700" font-size="25.20" fill="#231f20" text-anchor="start" letter-spacing="5.70" stroke="#231f20" stroke-width="0.7" stroke-linejoin="round">-</text>
<text id="RF01" transform="translate(1163.35 2087.60) scale(0.9190 1)" font-family="'Liberation Sans', Arial, sans-serif" font-weight="700" font-size="25.20" fill="#231f20" text-anchor="start" letter-spacing="5.70" stroke="#231f20" stroke-width="0.7" stroke-linejoin="round">-</text>
<text id="RF02" transform="translate(1244.46 2087.60) scale(0.8897 1)" font-family="'Liberation Sans', Arial, sans-serif" font-weight="700" font-size="25.20" fill="#231f20" text-anchor="start" letter-spacing="5.70" stroke="#231f20" stroke-width="0.7" stroke-linejoin="round">CyP</text>
<text id="RF03" transform="translate(1349.91 2087.60) scale(0.8316 1)" font-family="'Liberation Sans', Arial, sans-serif" font-weight="700" font-size="25.20" fill="#231f20" text-anchor="start" letter-spacing="5.70" stroke="#231f20" stroke-width="0.7" stroke-linejoin="round">LPS</text>
<text id="RF04" transform="translate(1451.86 2087.60) scale(0.9061 1)" font-family="'Liberation Sans', Arial, sans-serif" font-weight="700" font-size="25.20" fill="#231f20" text-anchor="start" letter-spacing="5.70" stroke="#231f20" stroke-width="0.7" stroke-linejoin="round">CyP</text>
<text id="RF10" transform="translate(1058.65 2135.00) scale(1.0722 1)" font-family="'Liberation Sans', Arial, sans-serif" font-weight="700" font-size="25.20" fill="#231f20" text-anchor="start" letter-spacing="5.70" stroke="#231f20" stroke-width="0.7" stroke-linejoin="round">-</text>
<text id="RF11" transform="translate(1141.51 2135.00) scale(0.8466 1)" font-family="'Liberation Sans', Arial, sans-serif" font-weight="700" font-size="25.20" fill="#231f20" text-anchor="start" letter-spacing="5.70" stroke="#231f20" stroke-width="0.7" stroke-linejoin="round">LPS</text>
<text id="RF12" transform="translate(1245.21 2135.00) scale(0.8463 1)" font-family="'Liberation Sans', Arial, sans-serif" font-weight="700" font-size="25.20" fill="#231f20" text-anchor="start" letter-spacing="5.70" stroke="#231f20" stroke-width="0.7" stroke-linejoin="round">LPS</text>
<text id="RF13" transform="translate(1349.91 2135.00) scale(0.8316 1)" font-family="'Liberation Sans', Arial, sans-serif" font-weight="700" font-size="25.20" fill="#231f20" text-anchor="start" letter-spacing="5.70" stroke="#231f20" stroke-width="0.7" stroke-linejoin="round">LPS</text>
<text id="RF14" transform="translate(1451.86 2135.00) scale(0.9061 1)" font-family="'Liberation Sans', Arial, sans-serif" font-weight="700" font-size="25.20" fill="#231f20" text-anchor="start" letter-spacing="5.70" stroke="#231f20" stroke-width="0.7" stroke-linejoin="round">CyP</text>
<text id="SF0" transform="translate(1248.90 1838.10) scale(0.8260 1)" font-family="'Liberation Serif', 'Times New Roman', serif" font-weight="400" font-size="45.21" fill="#231f20" text-anchor="start" letter-spacing="2.00" stroke="#231f20" stroke-width="0.45" stroke-linejoin="round">***</text>
<text id="SF1" transform="translate(1350.90 1807.50) scale(0.8113 1)" font-family="'Liberation Serif', 'Times New Roman', serif" font-weight="400" font-size="45.21" fill="#231f20" text-anchor="start" letter-spacing="2.00" stroke="#231f20" stroke-width="0.45" stroke-linejoin="round">***</text>
<text id="SF2" transform="translate(1454.90 1817.80) scale(0.8174 1)" font-family="'Liberation Serif', 'Times New Roman', serif" font-weight="400" font-size="45.21" fill="#231f20" text-anchor="start" letter-spacing="2.00" stroke="#231f20" stroke-width="0.45" stroke-linejoin="round">***</text>
</g>
</svg></body></html>
